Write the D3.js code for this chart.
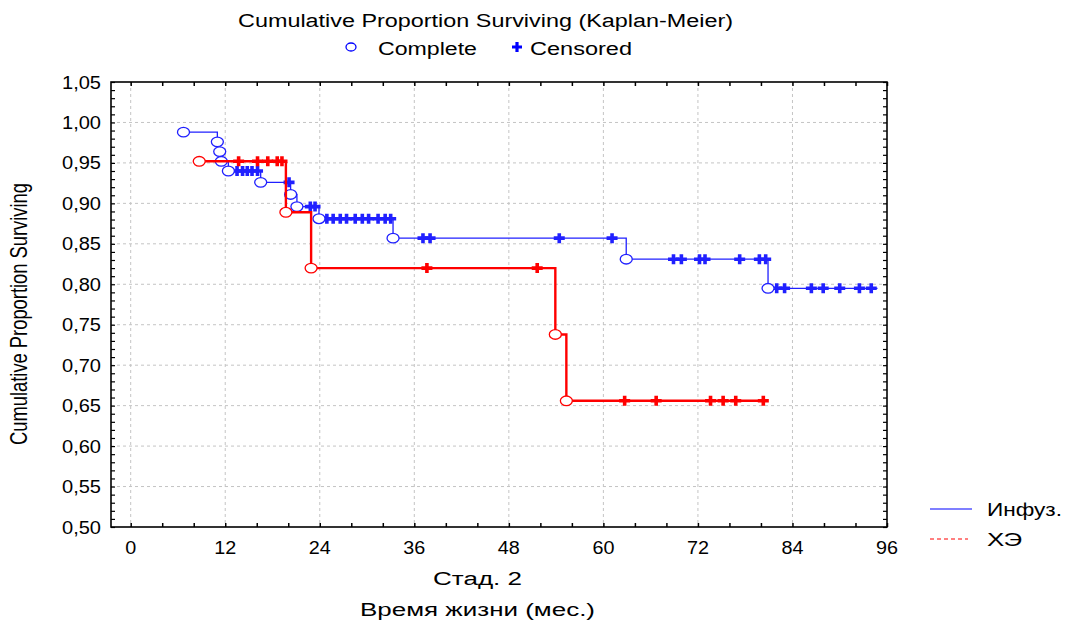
<!DOCTYPE html>
<html>
<head>
<meta charset="utf-8">
<script src="https://cdn.jsdelivr.net/npm/d3@7"></script>
<style>
  body { margin: 0; background: #fff; }
  svg { display: block; }
  text { font-family: "Liberation Sans", Arial, sans-serif; fill: #000; }
</style>
</head>
<body>
<div id="chart"></div>
<script>
// Инфуз. (синяя кривая): моменты событий и доля выживших
var infEventTimes = [6.7, 11.0, 11.3, 11.5, 12.4, 16.5, 20.3, 21.1, 23.9, 33.3, 62.9, 80.9];
var infSurvival   = [0.988, 0.976, 0.964, 0.952, 0.940, 0.926, 0.911, 0.896, 0.881, 0.857, 0.831, 0.795];
var infCensored   = [13.5, 14.2, 14.8, 15.4, 16.1, 20.1, 22.8, 23.4, 24.9, 25.7, 26.6, 27.4, 28.5,
                     29.4, 30.2, 31.4, 32.3, 33.0, 37.1, 38.0, 54.4, 61.1, 68.9, 69.9, 72.2, 72.9,
                     77.3, 79.8, 80.6, 82.0, 83.0, 86.4, 87.9, 90.0, 92.5, 94.0];
var infEnd = 94.8;

// ХЭ (красная кривая)
var hkhEventTimes = [8.7, 19.7, 22.9, 53.9, 55.3];
var hkhSurvival   = [0.952, 0.889, 0.820, 0.738, 0.656];
var hkhCensored   = [13.7, 16.1, 17.4, 18.6, 19.2, 37.6, 51.6, 62.7, 66.7, 73.6, 75.2, 76.8, 80.3];
var hkhEnd = 80.9;

var xTicks = [0, 12, 24, 36, 48, 60, 72, 84, 96];
var yTicks = [0.50, 0.55, 0.60, 0.65, 0.70, 0.75, 0.80, 0.85, 0.90, 0.95, 1.00, 1.05];

var W = 1065, H = 621;
var plot = {left: 111, right: 887, top: 82, bottom: 527};

var svg = d3.select("#chart").append("svg")
    .attr("width", W).attr("height", H);

var x = d3.scaleLinear().domain([-2.5, 96]).range([plot.left, plot.right]);
var y = d3.scaleLinear().domain([0.50, 1.05]).range([plot.bottom, plot.top]);

var fmt = function(v) { return d3.format(".2f")(v).replace(".", ","); };

// текст в оригинале растянут по горизонтали -> задаём ширину через textLength
function label(g, px, py, str, size, anchor, len, extra) {
    return g.append("text")
        .attr("transform", "translate(" + px + "," + py + ")" + (extra || ""))
        .attr("text-anchor", anchor || "start")
        .attr("textLength", len)
        .attr("lengthAdjust", "spacingAndGlyphs")
        .style("font-size", size + "px")
        .text(str);
}

// сетка
var grid = svg.append("g");
grid.selectAll(".gx").data(xTicks.filter(function(d) { return d < 96; })).enter().append("line")
    .attr("x1", function(d) { return x(d); }).attr("x2", function(d) { return x(d); })
    .attr("y1", plot.top).attr("y2", plot.bottom)
    .attr("stroke", "#c4c4c4").attr("stroke-dasharray", "3,3");
grid.selectAll(".gy").data(yTicks.filter(function(d) { return d > 0.5 && d < 1.05; })).enter().append("line")
    .attr("y1", function(d) { return y(d); }).attr("y2", function(d) { return y(d); })
    .attr("x1", plot.left).attr("x2", plot.right)
    .attr("stroke", "#c4c4c4").attr("stroke-dasharray", "3,3");

// оси: тики внутрь
var yMinor = d3.range(50, 106).map(function(d) { return d / 100; });
svg.append("g").attr("transform", "translate(0," + plot.bottom + ")")
    .call(d3.axisBottom(x).tickValues(d3.range(0, 97, 4)).tickSize(-4).tickFormat(""))
    .call(function(g) { g.select(".domain").remove(); g.selectAll("line").attr("stroke-width", 1.5); });
svg.append("g").attr("transform", "translate(0," + plot.top + ")")
    .call(d3.axisTop(x).tickValues(d3.range(0, 97, 4)).tickSize(-4).tickFormat(""))
    .call(function(g) { g.select(".domain").remove(); g.selectAll("line").attr("stroke-width", 1.5); });
svg.append("g").attr("transform", "translate(" + plot.left + ",0)")
    .call(d3.axisLeft(y).tickValues(yMinor).tickSize(-4).tickFormat(""))
    .call(function(g) { g.select(".domain").remove(); g.selectAll("line").attr("stroke-width", 1.2); });
svg.append("g").attr("transform", "translate(" + plot.right + ",0)")
    .call(d3.axisRight(y).tickValues(yMinor).tickSize(-4).tickFormat(""))
    .call(function(g) { g.select(".domain").remove(); g.selectAll("line").attr("stroke-width", 1.2); });

svg.append("rect")
    .attr("x", plot.left).attr("y", plot.top)
    .attr("width", plot.right - plot.left).attr("height", plot.bottom - plot.top)
    .attr("fill", "none").attr("stroke", "#000").attr("stroke-width", 1.6);

// подписи тиков
var tl = svg.append("g");
xTicks.forEach(function(d) { label(tl, x(d), 554, d, 18, "middle", String(d).length * 11); });
yTicks.forEach(function(d) { label(tl, 101, y(d) + 6.5, fmt(d), 18, "end", 39); });

// ступенчатые кривые
function stepAt(times, surv, t) {
    var s = surv[0];
    for (var i = 0; i < times.length; i++) if (times[i] <= t) s = surv[i];
    return s;
}

var crossPath = "M-5.5,0H5.5M0,-5V5";

function drawCurve(times, surv, cens, end, color, width) {
    var pts = times.map(function(t, i) { return [t, surv[i]]; });
    pts.push([end, surv[surv.length - 1]]);
    var line = d3.line()
        .x(function(d) { return x(d[0]); })
        .y(function(d) { return y(d[1]); })
        .curve(d3.curveStepAfter);
    var g = svg.append("g");
    g.append("path").attr("d", line(pts))
        .attr("fill", "none").attr("stroke", color).attr("stroke-width", width);
    g.selectAll(".cens").data(cens).enter().append("path")
        .attr("transform", function(t) { return "translate(" + x(t) + "," + y(stepAt(times, surv, t)) + ")"; })
        .attr("d", crossPath)
        .attr("stroke", color).attr("stroke-width", 3.6).attr("fill", "none");
    g.selectAll(".ev").data(times).enter().append("ellipse")
        .attr("cx", function(t) { return x(t); })
        .attr("cy", function(t, i) { return y(surv[i]); })
        .attr("rx", 6).attr("ry", 4.8)
        .attr("fill", "#fff").attr("stroke", color).attr("stroke-width", 1.3);
}

drawCurve(infEventTimes, infSurvival, infCensored, infEnd, "#2020ff", 1.3);
drawCurve(hkhEventTimes, hkhSurvival, hkhCensored, hkhEnd, "#ff0000", 2.4);

// заголовок и легенда сверху
var head = svg.append("g");
label(head, 485.5, 27, "Cumulative Proportion Surviving (Kaplan-Meier)", 18, "middle", 495);
head.append("ellipse").attr("cx", 351).attr("cy", 47).attr("rx", 5).attr("ry", 4)
    .attr("fill", "#fff").attr("stroke", "#0000ff").attr("stroke-width", 1.3);
label(head, 378, 55, "Complete", 18, "start", 99);
head.append("path").attr("transform", "translate(517,47)").attr("d", "M-5,0H5M0,-5V5")
    .attr("stroke", "#0000ff").attr("stroke-width", 3.2);
label(head, 530, 55, "Censored", 18, "start", 102);

// подписи осей
label(svg, 27, 314, "Cumulative Proportion Surviving", 18, "middle", 262, " scale(1.3,1) rotate(-90)");
label(svg, 477.5, 585, "Стад. 2", 18, "middle", 89);
label(svg, 477.5, 616, "Время жизни (мес.)", 18, "middle", 235);

// легенда справа
var leg = svg.append("g");
leg.append("line").attr("x1", 930).attr("x2", 972).attr("y1", 509).attr("y2", 509)
    .attr("stroke", "#0000ff").attr("stroke-width", 1.2);
label(leg, 987, 516, "Инфуз.", 18, "start", 75);
leg.append("line").attr("x1", 930).attr("x2", 968).attr("y1", 539).attr("y2", 539)
    .attr("stroke", "#ff0000").attr("stroke-width", 1).attr("stroke-dasharray", "4,3");
label(leg, 987, 546, "ХЭ", 18, "start", 35);
</script>
</body>
</html>
